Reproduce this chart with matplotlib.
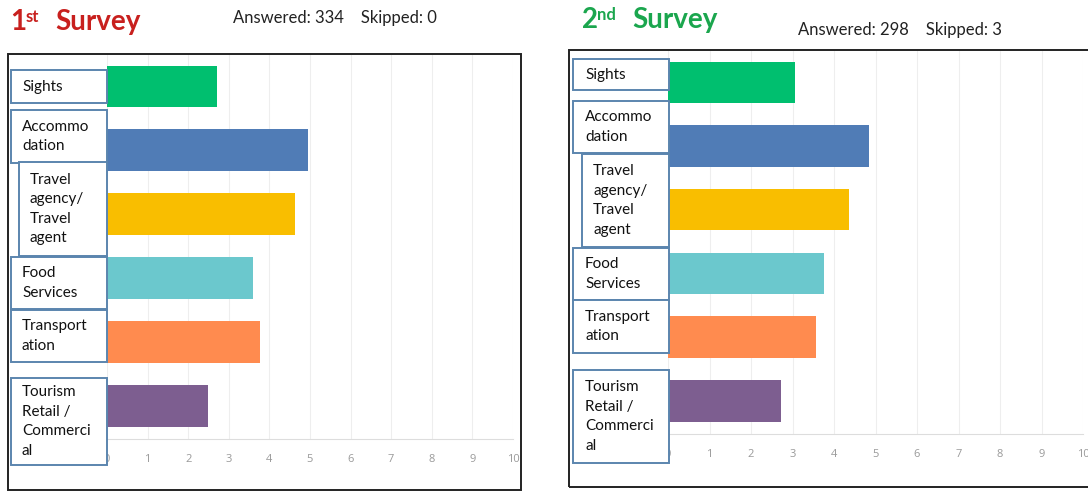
import matplotlib.pyplot as plt
from matplotlib.patches import Rectangle

# survey results, same six categories in both surveys
categories = ["Sights", "Accommodation", "Travel agency/Travel agent",
              "Food Services", "Transportation", "Tourism Retail / Commercial"]
box_labels = ["Sights", "Accommo\ndation", "Travel\nagency/\nTravel\nagent",
              "Food\nServices", "Transport\nation", "Tourism\nRetail /\nCommerci\nal"]
survey1 = [2.71, 4.95, 4.63, 3.60, 3.78, 2.49]
survey2 = [3.05, 4.84, 4.36, 3.76, 3.57, 2.72]
answered = [334, 298]
skipped = [0, 3]
x_ticks = list(range(0, 11))

bar_colors = ["#00BF6F", "#507CB6", "#F9BE00", "#6BC8CD", "#FF8B4F", "#7D5E90"]

W, H = 1088, 491
fig = plt.figure(figsize=(W / 100, H / 100), dpi=100)
fig.patch.set_facecolor("white")


def fx(x):
    return x / W


def fy(y):
    return 1 - y / H


def add_panel(ax_box, frame, values, label_boxes, text_x):
    # outer black frame around the whole panel
    x0, y0, x1, y1 = frame
    fig.patches.append(Rectangle((fx(x0), fy(y1)), fx(x1 - x0), (y1 - y0) / H,
                                 transform=fig.transFigure, fill=False,
                                 edgecolor="#222222", lw=1.4, zorder=0))
    l, t, r, b = ax_box
    ax = fig.add_axes([fx(l), fy(b), fx(r - l), (b - t) / H])
    ax.barh(range(len(values)), values, height=0.65, color=bar_colors, zorder=2)
    ax.set_xlim(0, 10)
    ax.set_ylim(5.52, -0.49)
    ax.set_xticks(x_ticks)
    ax.set_xticklabels([str(v) for v in x_ticks], fontsize=8, color="#999999",
                       fontfamily="Open Sans")
    ax.tick_params(axis="x", length=0, pad=11)
    ax.set_yticks([])
    ax.grid(axis="x", color="#EEEEEE", lw=0.8, zorder=0)
    for s in ["top", "right", "left"]:
        ax.spines[s].set_visible(False)
    ax.spines["bottom"].set_color("#DDDDDD")
    ax.patch.set_alpha(0)

    # category label boxes drawn on the left of the bars
    for lab, (bx0, by0, bx1, by1), tx in zip(box_labels, label_boxes, text_x):
        fig.patches.append(Rectangle((fx(bx0), fy(by1)), fx(bx1 - bx0), (by1 - by0) / H,
                                     transform=fig.transFigure, facecolor="white",
                                     edgecolor="#5B85AE", lw=1.4, zorder=3))
        fig.text(fx(tx), fy((by0 + by1) / 2), lab, ha="left", va="center",
                 fontsize=11, fontfamily="Lato", color="#111111",
                 linespacing=1.5, zorder=4)
    return ax


left_boxes = [(11, 70, 107, 103), (11, 110, 107, 163), (19, 162, 107, 256),
              (11, 257, 107, 309), (11, 310, 107, 362), (11, 378, 107, 465)]
left_tx = [22, 22, 30, 22, 22, 22]
right_boxes = [(573, 59, 669, 90), (573, 101, 669, 153), (582, 154, 669, 247),
               (573, 248, 669, 300), (573, 300, 669, 353), (573, 370, 669, 463)]
right_tx = [585, 585, 593, 585, 585, 585]

add_panel((107, 55, 513, 439), (8, 54, 521, 490), survey1, left_boxes, left_tx)
add_panel((668, 51, 1083, 434), (569, 50, 1092, 487), survey2, right_boxes, right_tx)

# panel titles with ordinal superscripts
red, green = "#C8201E", "#1BA64E"
fig.text(fx(10), fy(22), "1", fontsize=20, fontweight="bold", color=red,
         fontfamily="Lato", va="center", ha="left")
fig.text(fx(26), fy(17), "st", fontsize=12, fontweight="bold", color=red,
         fontfamily="Lato", va="center", ha="left")
fig.text(fx(55), fy(22), "Survey", fontsize=20, fontweight="bold", color=red,
         fontfamily="Lato", va="center", ha="left")
fig.text(fx(582), fy(20), "2", fontsize=20, fontweight="bold", color=green,
         fontfamily="Lato", va="center", ha="left")
fig.text(fx(597), fy(15), "nd", fontsize=12, fontweight="bold", color=green,
         fontfamily="Lato", va="center", ha="left")
fig.text(fx(632), fy(20), "Survey", fontsize=20, fontweight="bold", color=green,
         fontfamily="Lato", va="center", ha="left")

fig.text(fx(233), fy(18), f"Answered: {answered[0]}    Skipped: {skipped[0]}",
         fontsize=12, fontfamily="Lato", color="#222222", va="center", ha="left")
fig.text(fx(798), fy(30), f"Answered: {answered[1]}    Skipped: {skipped[1]}",
         fontsize=12, fontfamily="Lato", color="#222222", va="center", ha="left")

fig.savefig("out.png", dpi=100, facecolor="white")
